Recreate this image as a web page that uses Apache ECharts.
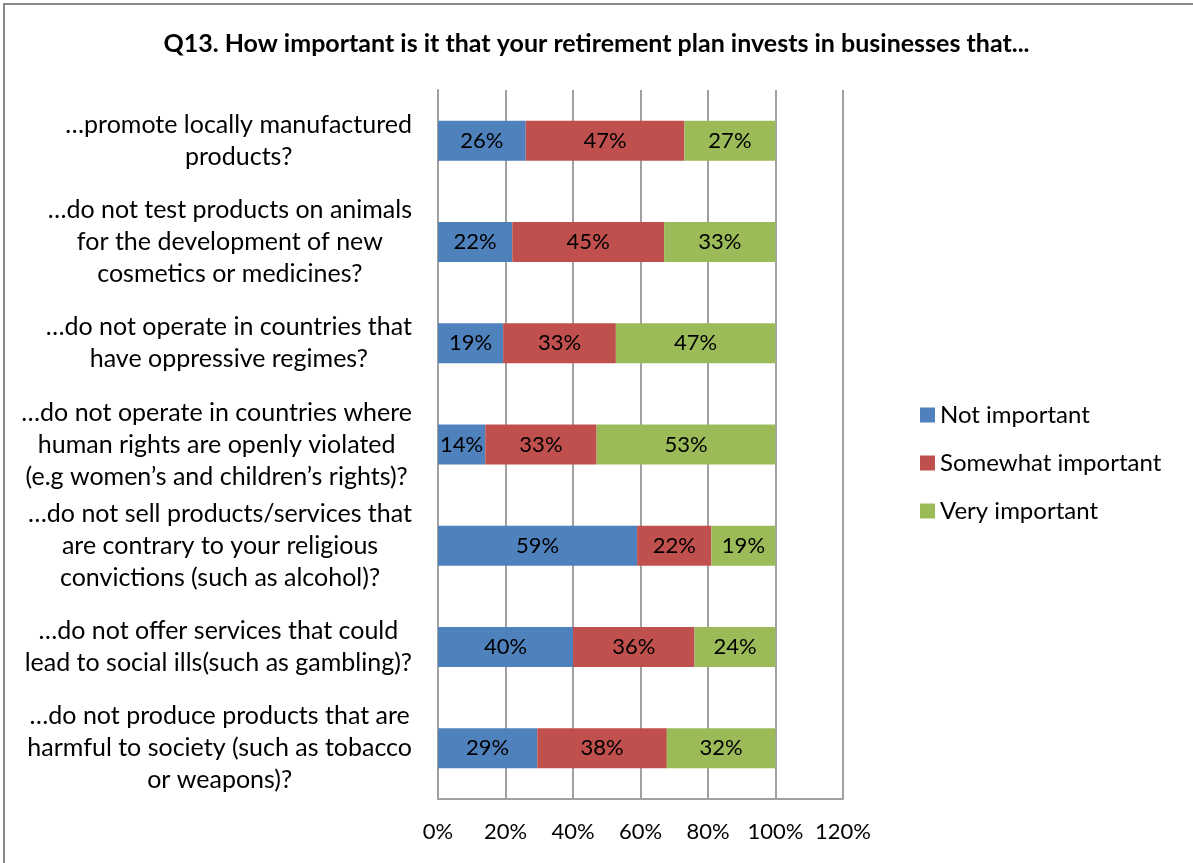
<!DOCTYPE html>
<html>
<head>
<meta charset="utf-8">
<script src="https://cdn.jsdelivr.net/npm/echarts@6/dist/echarts.min.js"></script>
<style>
  html, body { margin: 0; padding: 0; background: #fff; }
  #chart { width: 1193px; height: 863px; }
</style>
</head>
<body>
<div id="chart"></div>
<script>
// Survey question wording, one entry per bar (top to bottom)
const categories = [
  '…promote locally manufactured\nproducts?',
  '…do not test products on animals\nfor the development of new\ncosmetics or medicines?',
  '…do not operate in countries that\nhave oppressive regimes?',
  '…do not operate in countries where\nhuman rights are openly violated\n(e.g women’s and children’s rights)?',
  '…do not sell products/services that\nare contrary to your religious\nconvictions (such as alcohol)?',
  '…do not offer services that could\nlead to social ills(such as gambling)?',
  '…do not produce products that are\nharmful to society (such as tobacco\nor weapons)?'
];

// Share of respondents (%) per answer
const notImportant      = [26, 22, 19.3, 14, 59, 40, 29.4];
const somewhatImportant = [47, 45, 33.4, 33, 22, 36, 38.4];
const veryImportant     = [27, 33, 47.3, 53, 19, 24, 32.2];

const seriesNames = ['Not important', 'Somewhat important', 'Very important'];
const seriesColors = ['#4F81BD', '#C0504D', '#9BBB59'];

const xTicks = [0, 20, 40, 60, 80, 100, 120];

const FONT = 'Lato, "Open Sans", sans-serif';

const chart = echarts.init(document.getElementById('chart'), null, { renderer: 'canvas' });

function barSeries(name, values, color) {
  return {
    name: name,
    type: 'bar',
    stack: 'total',
    barWidth: 40,
    data: values,
    itemStyle: { color: color },
    label: {
      show: true,
      position: 'inside',
      color: '#000',
      fontFamily: FONT,
      fontSize: 22,
      formatter: p => Math.round(p.value) + '%'
    },
    emphasis: { disabled: true }
  };
}

chart.setOption({
  animation: false,
  title: {
    text: 'Q13. How important is it that your retirement plan invests in businesses that...',
    left: 'center',
    top: 26,
    textStyle: { fontFamily: FONT, fontWeight: 'bold', fontSize: 25, color: '#000' }
  },
  legend: {
    orient: 'vertical',
    left: 915,
    top: 398,
    itemWidth: 15,
    itemHeight: 15,
    itemGap: 24,
    icon: 'rect',
    textStyle: { fontFamily: FONT, fontSize: 24, color: '#000' },
    data: seriesNames
  },
  grid: { left: 438, right: 350, top: 90, bottom: 64, containLabel: false },
  xAxis: {
    type: 'value',
    min: xTicks[0],
    max: xTicks[xTicks.length - 1],
    interval: 20,
    axisLine: { show: true, lineStyle: { color: '#A0A0A0', width: 2 } },
    axisTick: { show: false },
    splitLine: { show: true, lineStyle: { color: '#A0A0A0', width: 2 } },
    axisLabel: {
      margin: 22,
      fontFamily: FONT,
      fontSize: 22,
      color: '#000',
      formatter: v => v + '%'
    }
  },
  yAxis: {
    type: 'category',
    inverse: true,
    data: categories,
    axisLine: { show: true, lineStyle: { color: '#A0A0A0', width: 2 } },
    axisTick: { show: false },
    axisLabel: {
      margin: 26,
      align: 'right',
      color: '#000',
      fontFamily: FONT,
      fontSize: 25,
      lineHeight: 32,
      formatter: v => v.split('\n').map(s => '{c|' + s + '}').join('\n'),
      rich: {
        c: { align: 'center', fontFamily: FONT, fontSize: 25, lineHeight: 32, color: '#000' }
      }
    }
  },
  graphic: [
    { type: 'line', shape: { x1: 4, y1: 4, x2: 4, y2: 863 }, style: { stroke: '#888', lineWidth: 2 }, silent: true },
    { type: 'line', shape: { x1: 3, y1: 4, x2: 1193, y2: 4 }, style: { stroke: '#888', lineWidth: 2 }, silent: true }
  ],
  series: [
    barSeries(seriesNames[0], notImportant, seriesColors[0]),
    barSeries(seriesNames[1], somewhatImportant, seriesColors[1]),
    barSeries(seriesNames[2], veryImportant, seriesColors[2])
  ]
});
</script>
</body>
</html>
